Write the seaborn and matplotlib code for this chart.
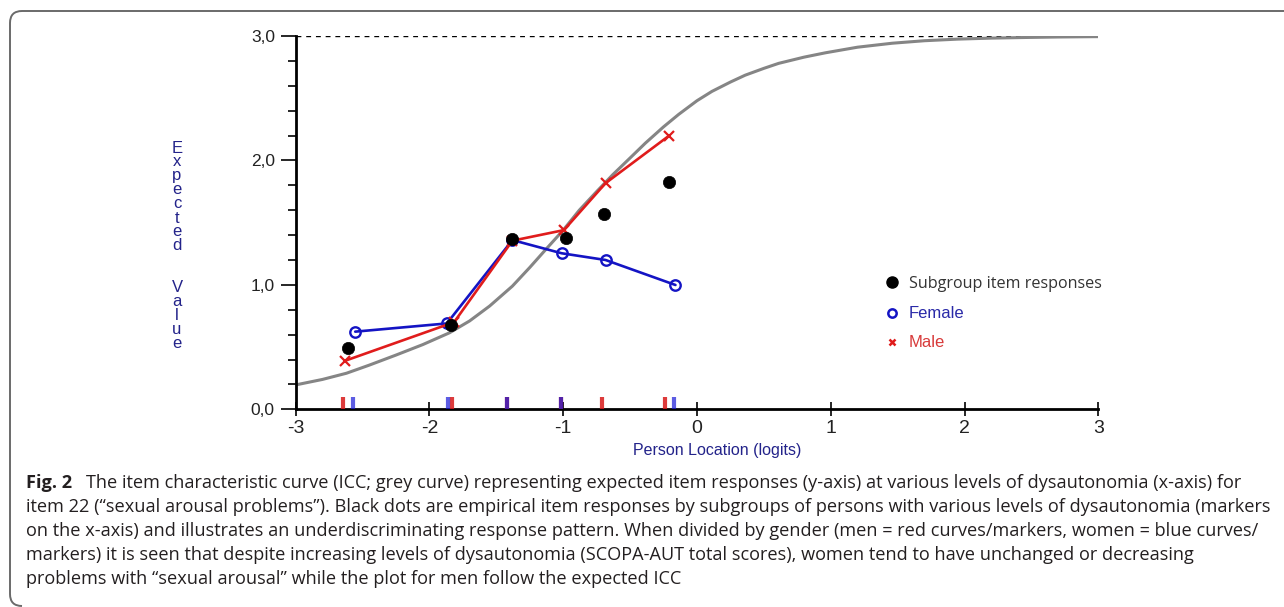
import matplotlib
matplotlib.use("Agg")
import matplotlib.pyplot as plt
import seaborn as sns
from matplotlib.lines import Line2D
from matplotlib.path import Path
from matplotlib.patches import PathPatch
from matplotlib.ticker import MultipleLocator, FixedLocator
from matplotlib.transforms import IdentityTransform
from matplotlib import font_manager

# ---------------- data ----------------
icc_x = [-3.0, -2.8, -2.62, -2.45, -2.25, -2.05, -1.85, -1.7, -1.55, -1.38, -1.25,
         -1.13, -1.0, -0.88, -0.75, -0.63, -0.5, -0.385, -0.25, -0.137, 0.0, 0.112,
         0.25, 0.36, 0.5, 0.61, 0.8, 0.96, 1.2, 1.46, 1.7, 1.95, 2.2, 2.45, 2.7, 3.0]
icc_y = [0.196, 0.24, 0.29, 0.355, 0.436, 0.52, 0.615, 0.71, 0.83, 0.99, 1.14,
         1.285, 1.44, 1.60, 1.75, 1.885, 2.02, 2.14, 2.27, 2.37, 2.48, 2.555,
         2.63, 2.685, 2.74, 2.78, 2.83, 2.865, 2.91, 2.942, 2.962, 2.975, 2.983, 2.988, 2.992, 2.995]

group_x = [-2.607, -1.84, -1.38, -0.978, -0.696, -0.211]
group_y = [0.49, 0.678, 1.367, 1.375, 1.567, 1.83]

female_x = [-2.555, -1.87, -1.38, -1.012, -0.684, -0.161]
female_y = [0.624, 0.69, 1.36, 1.254, 1.20, 0.999]

male_x = [-2.631, -1.816, -1.38, -0.995, -0.684, -0.211]
male_y = [0.39, 0.70, 1.355, 1.44, 1.817, 2.197]

rug_male = [-2.649, -1.828, -1.418, -1.019, -0.709, -0.236]
rug_female = [-2.575, -1.860, -1.418, -1.019, -0.174]

max_score = 3.0
xtick_values = [-3, -2, -1, 0, 1, 2, 3]
xtick_labels = ["-3", "-2", "-1", "0", "1", "2", "3"]
ytick_values = [0, 1, 2, 3]
ytick_labels = ["0,0", "1,0", "2,0", "3,0"]
legend_labels = ["Subgroup item responses", "Female", "Male"]
x_label = "Person Location (logits)"
y_label_words = ["Expected", "Value"]

caption_label = "Fig. 2"
caption_lines = [
    "The item characteristic curve (ICC; grey curve) representing expected item responses (y-axis) at various levels of dysautonomia (x-axis) for",
    "item 22 (\u201csexual arousal problems\u201d). Black dots are empirical item responses by subgroups of persons with various levels of dysautonomia (markers",
    "on the x-axis) and illustrates an underdiscriminating response pattern. When divided by gender (men = red curves/markers, women = blue curves/",
    "markers) it is seen that despite increasing levels of dysautonomia (SCOPA-AUT total scores), women tend to have unchanged or decreasing",
    "problems with \u201csexual arousal\u201d while the plot for men follow the expected ICC",
]

# ---------------- style ----------------
sns.set_style("white")
plt.rcParams["font.family"] = ["Liberation Sans", "DejaVu Sans"]
names = {f.name for f in font_manager.fontManager.ttflist}
narrow = "Liberation Sans Narrow" if "Liberation Sans Narrow" in names else "Liberation Sans"
cap_font = "Open Sans" if "Open Sans" in names else "DejaVu Sans"

W, H = 1284, 607
fig = plt.figure(figsize=(W / 100, H / 100), dpi=100)
fig.patch.set_facecolor("white")

def fx(px):
    return px / W

def fy(py):
    return 1 - py / H

ax_l, ax_r, ax_t, ax_b = 295.7, 1098.3, 36.0, 409.3
ax = fig.add_axes([fx(ax_l), fy(ax_b), (ax_r - ax_l) / W, (ax_b - ax_t) / H])
ax.set_facecolor("white")

navy = "#23238a"
c_blue = "#1414c4"
c_red = "#e01c1c"
c_grey = "#858585"

# ICC
sns.lineplot(x=icc_x, y=icc_y, color=c_grey, lw=2.2, estimator=None, sort=False, ax=ax, zorder=2)
# max expected value
ax.axhline(max_score, color="black", lw=1.0, ls=(0, (3.5, 3.5)), zorder=1)
# female & male
sns.lineplot(x=female_x, y=female_y, color=c_blue, lw=1.9, marker="o", markersize=7.5,
             markerfacecolor="none", markeredgecolor=c_blue, markeredgewidth=1.7,
             estimator=None, sort=False, ax=ax, zorder=3)
sns.lineplot(x=male_x, y=male_y, color=c_red, lw=1.9, marker="x", markersize=7,
             markeredgecolor=c_red, markeredgewidth=1.6, estimator=None, sort=False,
             ax=ax, zorder=4)
# subgroup dots
sns.scatterplot(x=group_x, y=group_y, color="black", s=78, edgecolor="black", linewidth=0.5,
                ax=ax, zorder=6)
# rug markers of class intervals
sns.rugplot(x=rug_male, height=0.033, color="#d81818", linewidth=3.0, alpha=0.85, ax=ax, zorder=5)
sns.rugplot(x=rug_female, height=0.033, color="#1818d8", linewidth=3.0, alpha=0.7, ax=ax, zorder=5)

ax.set_xlim(-3, 3)
ax.set_ylim(0, 3)
sns.despine(ax=ax)
for s in ("left", "bottom"):
    ax.spines[s].set_linewidth(2.0)
    ax.spines[s].set_color("black")

ax.xaxis.set_major_locator(FixedLocator(xtick_values))
ax.set_xticklabels(xtick_labels)
ax.yaxis.set_major_locator(FixedLocator(ytick_values))
ax.set_yticklabels(ytick_labels)
ax.yaxis.set_minor_locator(MultipleLocator(0.2))

ax.tick_params(axis="y", which="major", direction="out", length=11, width=1.4, pad=4,
               labelsize=12.5, labelcolor="#222222", left=True)
ax.tick_params(axis="y", which="minor", direction="out", length=6, width=1.4, left=True)
ax.tick_params(axis="x", which="major", direction="inout", length=10, width=1.4, pad=3,
               labelsize=14, labelcolor="#222222", bottom=True)
for lbl in ax.get_xticklabels() + ax.get_yticklabels():
    lbl.set_fontfamily(narrow)

ax.set_xlabel(x_label, fontsize=11.5, color=navy, family=narrow, va="center")
ax.xaxis.set_label_coords((717 - ax_l) / (ax_r - ax_l), -(451 - ax_b) / (ax_b - ax_t))
ax.set_ylabel("")

# stacked y label letters
letters = list(y_label_words[0]) + ["", ""] + list(y_label_words[1])
for i, ch in enumerate(letters):
    if ch:
        fig.text(fx(177), fy(148 + 14 * i), ch, ha="center", va="center",
                 fontsize=12, color=navy, family="Liberation Sans")

# legend
handles = [
    Line2D([], [], ls="none", marker="o", color="black", markersize=8),
    Line2D([], [], ls="none", marker="o", markerfacecolor="none", markeredgecolor=c_blue,
           markeredgewidth=1.8, markersize=6),
    Line2D([], [], ls="none", marker="x", color=c_red, markeredgewidth=1.8, markersize=5),
]
leg = ax.legend(handles, legend_labels, loc="upper left", bbox_to_anchor=(fx(884), fy(276)),
                bbox_transform=fig.transFigure, frameon=False, handlelength=1.0,
                handletextpad=0.55, labelspacing=0.88, borderpad=0, borderaxespad=0,
                prop={"family": cap_font, "size": 11.6},
                labelcolor=["#333333", "#2a2aa8", "#d83a3a"])
for t in leg.get_texts()[1:]:
    t.set_fontfamily("Liberation Sans")
    t.set_fontsize(12)

# outer rounded frame (open to the right)
r = 12
top, left = 596, 10
verts = [(W + 20, top), (left + r, top), (left, top), (left, top - r),
         (left, 1 + r), (left, 1), (left + r, 1)]
codes = [Path.MOVETO, Path.LINETO, Path.CURVE3, Path.CURVE3,
         Path.LINETO, Path.CURVE3, Path.CURVE3]
frame = PathPatch(Path(verts, codes), transform=IdentityTransform(), fill=False,
                  ec="#6a6a6a", lw=1.4)
fig.add_artist(frame)

# caption with auto-fit width
renderer = fig.canvas.get_renderer()
base = 13.0
tmp1 = fig.text(0, 0, caption_label, fontsize=base, fontweight="bold", family=cap_font)
tmp2 = fig.text(0, 0, caption_lines[0], fontsize=base, family=cap_font)
w_total = tmp1.get_window_extent(renderer).width + 16 + tmp2.get_window_extent(renderer).width
tmp1.remove(); tmp2.remove()
cap_size = base * (1240 - 26) / w_total
baselines = [488, 512, 536, 560, 584]
cap_color = "#231f20"
t_lab = fig.text(fx(26), fy(baselines[0]), caption_label, fontsize=cap_size, fontweight="bold",
                 family=cap_font, va="baseline", color=cap_color)
bb = t_lab.get_window_extent(renderer)
fig.text(fx(bb.x1 + 14), fy(baselines[0]), caption_lines[0], fontsize=cap_size,
         family=cap_font, va="baseline", color=cap_color)
for yb, line in zip(baselines[1:], caption_lines[1:]):
    fig.text(fx(26), fy(yb), line, fontsize=cap_size, family=cap_font, va="baseline",
             color=cap_color)

fig.savefig("out.png", dpi=100, facecolor="white")
